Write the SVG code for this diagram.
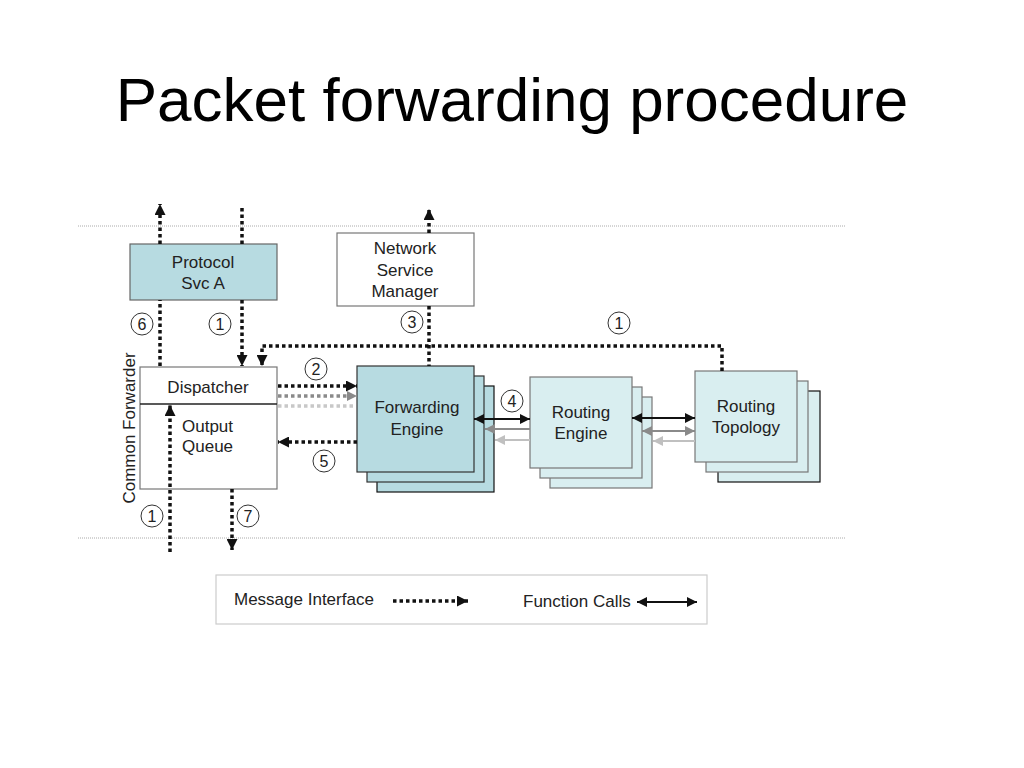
<svg xmlns="http://www.w3.org/2000/svg" width="1024" height="768" viewBox="0 0 1024 768">
<defs>
<style>
text{font-family:"Liberation Sans",Arial,sans-serif;fill:#222;}
.lbl{font-size:17px;text-anchor:middle;}
.num{font-size:16px;text-anchor:middle;}
.sep{stroke:#aaa;stroke-width:1;stroke-dasharray:1 1;fill:none;}
.msg{stroke:#111;stroke-width:3.5;stroke-dasharray:3.5 3;fill:none;}
.msg2{stroke:#8a8a8a;stroke-width:3.5;stroke-dasharray:3.5 3;fill:none;}
.msg3{stroke:#c8c8c8;stroke-width:3.5;stroke-dasharray:3.5 3;fill:none;}
.fn{stroke:#111;stroke-width:2;fill:none;}
.fn2{stroke:#8a8a8a;stroke-width:2;fill:none;}
.fn3{stroke:#c0c0c0;stroke-width:2;fill:none;}
.circ{fill:#fff;stroke:#333;stroke-width:1;}
.dark{fill:#b7dbe1;stroke:#333;stroke-width:1.2;}
.light{fill:#d9eef0;stroke:#777;stroke-width:1.2;}
</style>
<marker id="ah" viewBox="0 0 10 10" refX="10" refY="5" markerWidth="12" markerHeight="11" markerUnits="userSpaceOnUse" orient="auto"><path d="M0,0 L10,5 L0,10 z" fill="#111"/></marker>
<marker id="ahg" viewBox="0 0 10 10" refX="10" refY="5" markerWidth="10" markerHeight="10" markerUnits="userSpaceOnUse" orient="auto"><path d="M0,0 L10,5 L0,10 z" fill="#8a8a8a"/></marker>
<marker id="fa" viewBox="0 0 10 10" refX="10" refY="5" markerWidth="12" markerHeight="10" markerUnits="userSpaceOnUse" orient="auto-start-reverse"><path d="M0,0 L10,5 L0,10 z" fill="#111"/></marker>
<marker id="fag" viewBox="0 0 10 10" refX="10" refY="5" markerWidth="12" markerHeight="10" markerUnits="userSpaceOnUse" orient="auto-start-reverse"><path d="M0,0 L10,5 L0,10 z" fill="#8a8a8a"/></marker>
<marker id="fal" viewBox="0 0 10 10" refX="10" refY="5" markerWidth="12" markerHeight="10" markerUnits="userSpaceOnUse" orient="auto-start-reverse"><path d="M0,0 L10,5 L0,10 z" fill="#c0c0c0"/></marker>
</defs>
<rect width="1024" height="768" fill="#fff"/>
<text x="512" y="121" style="font-size:62px;text-anchor:middle;fill:#000">Packet forwarding procedure</text>
<g id="separators">
<line class="sep" x1="78" y1="226" x2="845" y2="226"/>
<line class="sep" x1="78" y1="538" x2="845" y2="538"/>
</g>
<text transform="translate(135,428) rotate(-90)" class="lbl">Common Forwarder</text>
<g id="protocol-svc-a">
<rect x="130" y="244" width="147" height="56" class="dark" style="stroke:#666"/>
<text x="203" y="268" class="lbl">Protocol</text>
<text x="203" y="289" class="lbl">Svc A</text>
</g>
<g id="network-service-manager">
<rect x="337" y="233" width="137" height="73" fill="#fff" stroke="#777" stroke-width="1.2"/>
<text x="405" y="254" class="lbl">Network</text>
<text x="405" y="276" class="lbl">Service</text>
<text x="405" y="297" class="lbl">Manager</text>
</g>
<g id="dispatcher-output-queue">
<rect x="140" y="367" width="137" height="122" fill="#fff" stroke="#777" stroke-width="1.2"/>
<line x1="140" y1="404" x2="277" y2="404" stroke="#222" stroke-width="1.5"/>
<text x="208" y="393" class="lbl">Dispatcher</text>
<text x="182" y="432" style="font-size:17px">Output</text>
<text x="182" y="452" style="font-size:17px">Queue</text>
</g>
<g id="forwarding-engine">
<rect x="377" y="386" width="117" height="106" class="dark" style="stroke:#111"/>
<rect x="367" y="376" width="117" height="106" class="dark"/>
<rect x="357" y="366" width="117" height="106" class="dark"/>
<text x="417" y="413" class="lbl">Forwarding</text>
<text x="417" y="435" class="lbl">Engine</text>
</g>
<g id="routing-engine">
<rect x="550" y="397" width="102" height="91" class="light"/>
<rect x="540" y="387" width="102" height="91" class="light"/>
<rect x="530" y="377" width="102" height="91" class="light"/>
<text x="581" y="418" class="lbl">Routing</text>
<text x="581" y="439" class="lbl">Engine</text>
</g>
<g id="routing-topology">
<rect x="718" y="391" width="102" height="91" class="light" style="stroke:#111"/>
<rect x="706" y="381" width="102" height="91" class="light"/>
<rect x="695" y="371" width="102" height="91" class="light"/>
<text x="746" y="412" class="lbl">Routing</text>
<text x="746" y="433" class="lbl">Topology</text>
</g>
<g id="connectors">
<line class="msg" x1="160" y1="366" x2="160" y2="300"/>
<line class="msg" x1="160" y1="244" x2="160" y2="204" marker-end="url(#ah)"/>
<line class="msg" x1="242" y1="208" x2="242" y2="244"/>
<line class="msg" x1="242" y1="300" x2="242" y2="366" marker-end="url(#ah)"/>
<path class="msg" d="M722,371 V346 H262 V366" marker-end="url(#ah)"/>
<line class="msg" x1="429" y1="233" x2="429" y2="209" marker-end="url(#ah)"/>
<line class="msg" x1="429" y1="306" x2="429" y2="366"/>
<line class="msg" x1="278" y1="386" x2="357" y2="386" marker-end="url(#ah)"/>
<line class="msg2" x1="278" y1="396" x2="357" y2="396" marker-end="url(#ahg)"/>
<line class="msg3" x1="278" y1="406" x2="356" y2="406"/>
<line class="msg" x1="357" y1="442" x2="278" y2="442" marker-end="url(#ah)"/>
<line class="msg" x1="170" y1="552" x2="170" y2="405" marker-end="url(#ah)"/>
<line class="msg" x1="232" y1="489" x2="232" y2="550" marker-end="url(#ah)"/>
<line class="fn" x1="474" y1="419" x2="530" y2="419" marker-start="url(#fa)" marker-end="url(#fa)"/>
<line class="fn2" x1="530" y1="429" x2="485" y2="429" marker-end="url(#fag)"/>
<line class="fn3" x1="530" y1="440" x2="495" y2="440" marker-end="url(#fal)"/>
<line class="fn" x1="632" y1="418" x2="695" y2="418" marker-start="url(#fa)" marker-end="url(#fa)"/>
<line class="fn2" x1="642" y1="431" x2="695" y2="431" marker-start="url(#fag)" marker-end="url(#fag)"/>
<line class="fn3" x1="695" y1="441" x2="653" y2="441" marker-end="url(#fal)"/>
</g>
<g id="step-labels">
<circle class="circ" cx="142" cy="324" r="11"/><text x="142" y="329.5" class="num">6</text>
<circle class="circ" cx="220" cy="324" r="11"/><text x="220" y="329.5" class="num">1</text>
<circle class="circ" cx="412" cy="322" r="11"/><text x="412" y="327.5" class="num">3</text>
<circle class="circ" cx="619" cy="323" r="11"/><text x="619" y="328.5" class="num">1</text>
<circle class="circ" cx="316" cy="369" r="11"/><text x="316" y="374.5" class="num">2</text>
<circle class="circ" cx="324" cy="461" r="11"/><text x="324" y="466.5" class="num">5</text>
<circle class="circ" cx="512" cy="401" r="11"/><text x="512" y="406.5" class="num">4</text>
<circle class="circ" cx="152" cy="516" r="11"/><text x="152" y="521.5" class="num">1</text>
<circle class="circ" cx="248" cy="516" r="11"/><text x="248" y="521.5" class="num">7</text>
</g>
<g id="legend">
<rect x="216" y="575" width="491" height="49" fill="#fff" stroke="#ccc" stroke-width="1.2"/>
<text x="234" y="605" style="font-size:17px">Message Interface</text>
<line class="msg" x1="393" y1="601" x2="468" y2="601" marker-end="url(#ah)"/>
<text x="523" y="607" style="font-size:17px">Function Calls</text>
<line class="fn" x1="637" y1="602" x2="697" y2="602" marker-start="url(#fa)" marker-end="url(#fa)"/>
</g>
</svg>
